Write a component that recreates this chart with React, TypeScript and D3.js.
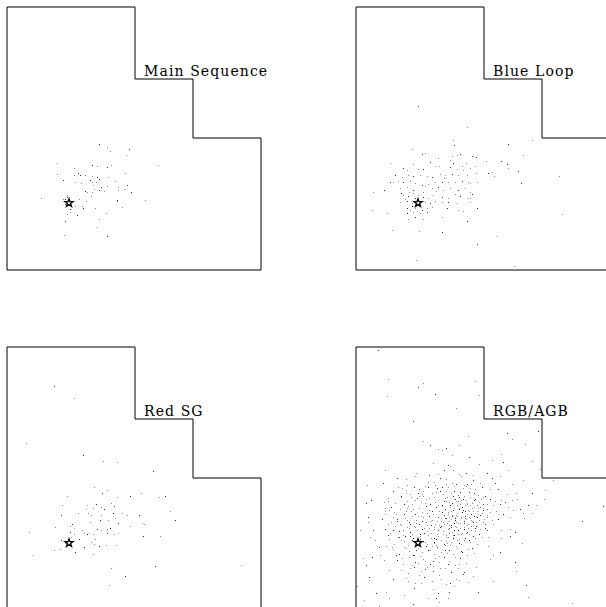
import React from "react";
import * as d3 from "d3";

const panelLabels = ["Main Sequence", "Blue Loop", "Red SG", "RGB/AGB"];

// Star (reference object) position, in the shared panel frame
const centerStar: [number, number] = [69, 203];

// Field boundary vertices (shared panel frame)
const boundary: [number, number][] = [
  [7, 7], [135, 7], [135, 79], [193, 79], [193, 138], [261, 138], [261, 270], [7, 270],
];

const mainSequence: [number, number][] = [
  [99,144],[107,147],[110,151],[129,149],[126,155],[57,163],[92,165],[97,166],[111,165],[107,167],
  [158,165],[74,168],[78,173],[57,174],[74,175],[80,175],[85,175],[92,176],[97,177],[125,173],
  [108,177],[63,180],[75,182],[81,183],[90,180],[92,182],[96,182],[99,179],[115,181],[93,185],
  [101,187],[107,186],[118,187],[127,185],[124,189],[94,189],[99,190],[104,191],[118,190],[85,191],
  [87,192],[92,192],[131,192],[91,196],[67,195],[67,197],[41,198],[63,199],[65,199],[79,199],
  [86,201],[117,200],[117,201],[145,200],[65,204],[75,206],[82,206],[83,208],[95,208],[122,207],
  [70,209],[67,214],[70,212],[77,215],[106,213],[99,219],[65,221],[97,227],[64,235],[107,236],
];

const blueLoop: [number, number][] = [
  [69.3,105.7],[117.7,126.7],[103.7,140],[105.3,145],[62.7,149],[76,153.3],[73.3,154],[102.7,156],[107.7,155],[111,154.3],
  [89,157.7],[101,160],[81,161.7],[41,163.3],[64.3,164.3],[104.3,163.3],[112.7,165.7],[117,163.3],[54.3,168.3],[57.7,170],
  [69.3,169],[74.3,169],[86,166],[90,166],[101,166.7],[107.7,169],[114.3,170],[46,175],[52.7,176.7],[59.3,175],
  [64.3,175.7],[71,175],[77.7,175.7],[82.7,176.7],[91,174.3],[96,175],[102.7,174.3],[109.3,175],[117.7,175],[41,181.7],
  [44.3,182.3],[49.3,181],[54.3,182.3],[61,181],[66,183.3],[72.7,185],[79.3,184.3],[86,182.3],[92.7,181.7],[99.3,182.3],
  [106,182.3],[112.7,181],[119.3,182.3],[24.3,192.3],[35,190],[51,188.3],[57.7,186.7],[64.3,190],[76,185.7],[82.7,188.3],
  [89.3,186.7],[94.3,190],[101,188.3],[109.3,190],[116,188.3],[54.3,195],[59.3,195.7],[64.3,193.3],[69.3,195],[74.3,196.7],
  [79.3,198.3],[84.3,195],[92.7,196.7],[99.3,198.3],[106,194.3],[111,195.7],[119.3,197.7],[51,202.3],[57.7,201],[62.7,203.3],
  [76,201.7],[81,203.3],[86,201],[92.7,202.3],[99.3,201.7],[107.7,203.3],[22.7,210],[57.7,207.7],[61,210],[66,208.3],
  [72.7,210],[77.7,208.3],[82.7,206.7],[97.7,208.3],[109.3,210],[114.3,211],[57.7,213.3],[64.3,212.3],[71,213.3],[77.7,212.3],
  [37.7,213.3],[59.3,219],[66,216.7],[74.3,219],[92.7,216.7],[117.7,221],[43.3,229.7],[70.3,231],[92.7,232.3],[67,259.7],
  [183,140.3],[159.3,144.3],[122.7,156],[124.3,156],[127,157],[174.3,155.3],[136.7,161],[152,161],[126.3,166],[121.3,167.7],
  [157.7,164.3],[158.7,167.7],[127,172.7],[139.3,173.3],[142.7,172],[145,176.3],[168.7,171.3],[210.3,176],[128,181.7],[172,183.3],
  [121.3,183.3],[121.3,191.7],[123,193.7],[121.3,198.3],[121.3,202.3],[128,208],[212.7,214.3],[148,236.3],[128,243.7],[165.3,266.3],
  [60,192],[66,198],[71,205],[56,199],[63,206],[68,211],[74,192],[52,193],[87,191],[95,178],
];

const redSG: [number, number][] = [
  [54.3,46],[74.3,57.7],[25.7,102.7],[83.3,115.3],[103.3,120.7],[117,122.3],[152.7,131],[94,147.3],[107.3,149.7],[101.7,153.3],
  [67.3,155.7],[117.3,156.7],[129.7,156],[141,153.3],[159,156.7],[164.7,156],[62.3,165],[86.7,165],[96,164],[101,166.7],
  [110.7,163.3],[114,166],[86.3,169.3],[92.7,168.3],[104.3,169],[78.3,172.7],[87.7,172.7],[60.7,174.7],[90.7,175],[101,175],
  [113,172.7],[121.7,172.7],[127,174.7],[138.7,174.7],[170,171],[90.3,181.7],[100,180],[107.7,180.3],[115,178.3],[118.3,182.7],
  [142,182.7],[143.7,184.3],[174.7,180.3],[55.3,186.7],[70,185.7],[72.3,184],[74.3,187.7],[82.3,190],[97.3,189.3],[101.3,190],
  [107,189],[110,188.3],[129.7,186],[29,192.3],[70,192.3],[74.3,194],[84,193.3],[86.7,194],[89,192.7],[93,194],
  [107,193.3],[114,194],[118,192.7],[142.7,195.7],[159.7,195.7],[71,196.7],[79,198.7],[95,199.3],[91,202.3],[60.7,200],
  [65,203.3],[94.3,204],[99.3,205.7],[106,204.7],[116.3,204.7],[84,207.3],[54.3,209.7],[60.3,209],[75.3,212],[93,214],
  [33.3,215],[155.3,226],[240.7,224.7],[111.3,228.3],[125,235.7],[109.3,245.3],
];

const rgbAgbOutskirts: [number, number][] = [
  [28.7,10.3],[39,39.3],[74.3,42.7],[69,46.7],[126.3,41],[37.7,56.3],[85.7,53.7],[130.3,55.3],[107,68.3],[64.3,80.7],
  [118.7,96],[73.7,100.7],[81.3,104.7],[88.7,108.7],[92.7,109.7],[97,107.7],[110.3,104.7],[102.7,114.7],[120.3,117],[83.7,123],
  [130.3,123.7],[98.7,124.7],[101,126.3],[103.7,129.7],[95.3,129.7],[36,130.3],[67,133],[80.3,135.3],[88.7,134.3],[110.3,133.7],
  [117,133],[123.7,134.7],[57,139.3],[34.3,142.7],[18,145.3],[48.7,147],[78.7,147],[85.3,142],[97,143.7],[107,143.7],
  [115.3,145.3],[122,143.7],[22,160.3],[35.3,162],[39.3,161.3],[17,162.7],[40.3,169.7],[36.3,173.7],[18.7,177],[18.7,182],
  [11,189.7],[23.7,190.3],[21.3,197],[26,199.7],[30.3,207],[28,206.3],[37,206.3],[23,217],[31,215.3],[13.7,217.7],
  [17,225.3],[35.3,220.3],[40.3,230.3],[19.7,237],[20.3,240.3],[8.3,246.3],[43.7,239.3],[58.7,241.3],[37,252],[27,253],
  [39.7,257.7],[55.3,255.3],[65.3,247.7],[72,243],[78.7,257.7],[87,258],[90.3,262],[98.7,257.7],[63.7,264.3],[29.7,265.7],
  [15.3,259.7],[100.3,252],[105.3,246.3],[97,244.3],[88.7,253],[83.7,248.7],[107,238.7],[113.7,233.7],[123.7,236.3],[118.7,242],
  [128.7,252],[110.3,223.7],[127,227],
  [157.7,92.7],[163.3,99.3],[176.3,104.3],[189.3,91],[152.3,114.3],[143,120.3],[154.3,122],[182.7,121],[191,128.7],[138.3,133],
  [159.3,129.7],[151,136.3],[142.7,137.7],[173.7,140.3],[203.7,139.7],[146,143],[162.7,143.7],[141,148.7],[149.3,148.7],[157.7,153.7],
  [167,152.7],[182.7,153],[196,149.7],[134.3,157],[141,158.7],[146,161],[151.7,159.7],[156,162],[162.7,159.7],[167.7,158.7],
  [179.3,165.3],[187,165.3],[195.3,158.7],[253.7,166.3],[137.7,163.7],[144.3,165.3],[151,163.7],[159.3,167],[164.3,170.3],[171,168.7],
  [174.3,173],[182.7,172.7],[134.3,170.3],[141,172],[147,171],[153.7,173.7],[137.7,177],[142.7,179.7],[149.3,178.7],[161,177],
  [175,177.7],[232.7,181],[134.3,182],[144.3,183.7],[138.3,189.7],[151.7,189.7],[161,188.7],[166,192.3],[139.3,197],[151.7,198],
  [161,196.3],[172.7,202.7],[139.3,206],[151,212],[144.3,215.3],[141,218.7],[166,222],[166.7,231],[143.7,241.3],[177,245.3],
  [179.3,257],[222.7,263],
];

const rgbAgbCore: [number, number][] = [
  [48,138.4],[66,136.2],[79,141.7],[91,137.5],[103,143.1],[112,135.8],[124,139.9],[58,144.6],[86,145.3],[118,144.2],[97,139.1],[131,142.6],
  [44,151.2],[53,147.8],[61,153.6],[70,149.3],[76,146.1],[83,152.9],[88,148.4],[94,154.2],[99,146.9],[105,150.7],[109,155.1],
  [114,147.6],[120,152.3],[126,149.0],[129,154.8],[133,146.5],[57,150.0],[73,154.4],[91,151.1],[117,145.9],[102,153.3],[65,146.7],
  [39,158.3],[46,162.7],[52,156.4],[58,160.9],[63,164.2],[68,157.6],[72,161.8],[77,159.1],[81,163.7],[85,156.8],[89,160.4],
  [93,164.9],[96,158.2],[100,162.1],[104,156.3],[107,160.8],[111,164.3],[114,158.9],[118,162.6],[121,156.7],[125,160.1],
  [128,164.6],[132,158.5],[55,163.9],[74,155.9],[98,157.4],[110,157.2],[123,163.4],
  [36,171.4],[42,167.2],[47,173.6],[51,168.8],[55,174.3],[59,166.1],[62,170.7],[66,173.9],[70,167.5],[73,171.8],[77,165.6],
  [80,169.9],[84,174.2],[87,167.3],[90,171.1],[93,165.8],[96,169.4],[99,173.5],[101,166.9],[104,170.2],[107,174.7],[110,167.8],
  [113,172.1],[116,165.4],[119,169.6],[122,173.8],[125,167.1],[128,171.3],[131,174.9],[134,168.2],[64,168.6],[95,174.6],[108,165.2],[118,174.1],
  [33,179.2],[39,183.8],[44,176.5],[48,181.2],[52,184.6],[56,177.9],[60,182.3],[63,175.6],[67,180.4],[70,184.1],[74,177.3],
  [77,181.9],[80,175.8],[83,179.6],[86,183.7],[89,176.9],[92,180.8],[95,184.4],[97,177.6],[100,181.3],[103,175.2],[106,179.9],
  [109,183.2],[112,176.6],[115,180.5],[118,184.8],[121,178.1],[124,182.4],[127,175.9],[130,180.2],[136,184.1],[72,176.2],
  [88,181.5],[102,184.9],[116,177.8],[58,179.5],
  [36,188.6],[41,193.1],[46,186.4],[50,190.9],[54,194.5],[58,187.2],[61,191.7],[65,185.9],[68,189.8],[71,194.2],[75,187.7],
  [78,191.4],[82,185.3],[85,189.1],[88,193.6],[91,186.8],[94,190.5],[97,194.8],[100,188.2],[103,192.3],[106,185.7],[109,189.9],
  [112,194.1],[115,187.4],[118,191.6],[122,186.1],[126,190.8],[130,194.3],[63,193.8],[80,188.4],[92,185.6],[104,194.6],[120,193.9],[44,190.2],
  [40,199.4],[45,203.8],[50,196.6],[55,201.2],[59,204.7],[64,197.9],[67,201.9],[71,196.3],[74,200.6],[78,204.3],[82,198.1],
  [85,202.4],[89,195.7],[92,199.8],[95,203.9],[99,197.2],[102,201.5],[105,195.4],[108,199.9],[112,204.2],[116,197.7],[121,202.1],
  [126,198.4],[61,195.6],[87,204.8],[97,200.9],[110,202.9],[52,200.3],
  [44,209.4],[50,213.7],[55,206.8],[60,211.2],[65,214.9],[69,207.6],[73,212.3],[77,205.9],[81,210.1],[85,214.4],[88,207.3],
  [92,211.6],[96,205.5],[100,209.8],[104,214.1],[108,207.9],[113,212.4],[119,208.6],[125,213.3],[67,210.4],[83,206.4],[98,213.2],
  [48,219.6],[54,223.9],[60,217.2],[66,221.5],[71,216.1],[76,220.8],[81,224.3],[86,217.9],[90,222.2],[95,216.6],[100,220.9],
  [106,224.7],[111,218.3],[117,222.6],[63,225.0],[84,221.4],
  [52,229.7],[59,233.4],[65,227.1],[72,231.2],[78,226.5],[84,230.9],[90,234.6],[96,228.3],[102,232.4],[109,227.8],[70,234.9],[115,231.6],
  [57,238.2],[66,242.6],[75,237.1],[83,241.4],[92,238.9],[101,243.3],[110,239.7],
  [97,161.5],[101,164.8],[105,168.2],[109,161.1],[113,166.7],[117,160.3],[121,164.9],[126,158.8],[130,162.4],[99,171.7],
  [103,175.9],[108,172.6],[112,178.4],[116,171.2],[120,176.8],[124,170.5],[128,177.3],[133,172.8],[98,182.6],[102,186.9],
  [107,181.7],[111,188.3],[115,183.1],[119,187.6],[123,181.2],[127,185.5],[131,189.2],[100,192.7],[105,190.1],[113,192.8],
  [96,178.3],[110,169.4],[122,179.6],[118,163.6],[106,158.6],[129,168.1],[135,178.9],[134,164.3],
];

const rgbAgbCoreExtra: [number, number][] = [
  [51.5,157.2],[56.8,171.1],[61.2,183.9],[65.7,160.4],[69.1,176.3],[72.6,188.7],[75.9,163.2],[79.4,195.1],[82.8,170.6],[86.2,161.9],
  [89.7,185.2],[93.1,172.4],[96.5,196.8],[99.8,176.9],[103.2,163.1],[106.6,187.4],[110.1,199.3],[113.5,169.8],[116.9,192.5],[120.3,171.5],
  [123.7,195.6],[127.1,181.7],[130.6,166.6],[48.3,178.6],[53.7,189.5],[58.1,167.9],[62.6,199.8],[67.0,182.5],[70.4,155.7],[74.8,193.2],
  [78.2,172.9],[81.6,181.3],[85.1,197.9],[88.5,165.2],[91.9,178.4],[95.3,160.8],[98.7,188.9],[102.1,171.3],[105.5,178.1],[108.9,193.7],
  [112.3,160.2],[115.7,175.9],[119.1,184.3],[122.5,167.8],[125.9,188.2],[129.4,173.6],[57.4,208.1],[63.9,214.8],[68.3,204.2],[73.7,218.6],
  [79.2,209.8],[84.6,202.9],[90.1,216.4],[95.5,210.3],[100.9,205.4],[106.3,216.9],[111.8,210.9],[61.4,227.5],[68.8,222.8],[76.3,229.3],
  [83.7,226.1],[91.2,227.9],[98.6,224.1],[45.2,172.4],[41.6,181.6],[38.7,195.5],[43.3,206.6],[35.8,167.5],[47.1,215.2],[53.2,218.3],
  [87.4,152.1],[92.6,146.8],[97.3,150.5],[104.9,146.2],[110.7,151.9],[115.2,155.6],[120.8,148.3],[125.3,152.6],[80.1,157.8],[74.2,150.8],
  [68.5,152.9],[62.1,157.5],[57.3,153.3],[135.7,156.4],[138.2,168.7],[137.5,175.3],[136.1,188.4],[133.2,197.3],[128.4,203.7],[123.1,207.9],
  [117.6,214.7],[100.4,185.1],[104.8,183.2],[108.2,176.3],[111.4,182.6],[114.8,188.9],[117.3,179.4],[121.7,189.9],[125.2,176.4],[101.6,178.7],
  [94.1,182.2],[89.3,189.6],[84.7,186.9],[77.6,185.1],[73.2,180.7],[66.4,186.8],[60.1,188.3],[56.2,195.8],[51.4,184.2],[47.6,196.9],
  [70.7,199.4],[76.4,202.2],[81.9,193.4],[87.1,199.2],[93.6,194.2],[98.1,203.2],[103.6,197.6],[107.4,205.9],[114.5,200.4],[119.8,199.6],
];

const rgbAgb = [...rgbAgbOutskirts, ...rgbAgbCore, ...rgbAgbCoreExtra];

const panelData = [mainSequence, blueLoop, redSG, rgbAgb];
const panelOffsets: [number, number][] = [[0, 0], [349, 0], [0, 340], [349, 340]];

const W = 606;
const H = 607;

export default function App() {
  const x = d3.scaleLinear().domain([7, 261]).range([7, 261]);
  const y = d3.scaleLinear().domain([7, 270]).range([7, 270]);
  const line = d3.line<[number, number]>().x((d) => x(d[0])).y((d) => y(d[1]));
  const starPath = d3.symbol().type(d3.symbolStar).size(20)() as string;

  return (
    <svg
      width={W}
      height={H}
      style={{ position: "absolute", left: 0, top: 0, background: "#fff" }}
    >
      <rect x={0} y={0} width={W} height={H} fill="#fff" />
      {panelData.map((pts, pi) => {
        const [ox, oy] = panelOffsets[pi];
        return (
          <g key={pi} transform={`translate(${ox},${oy})`}>
            {pts.map((d, i) => (
              <rect
                key={i}
                x={Math.round(x(d[0]))}
                y={Math.round(y(d[1]))}
                width={1}
                height={1}
                fill={i % 3 === 0 ? "#2a2a2a" : "#8c8c8c"}
              />
            ))}
            <path
              d={(line(boundary) as string) + "Z"}
              fill="none"
              stroke="#000"
              strokeWidth={1}
            />
            <text
              x={x(144)}
              y={y(75.5)}
              fontFamily="'DejaVu Serif', serif"
              fontSize={14}
              letterSpacing={1.1}
              fill="#000"
            >
              {panelLabels[pi]}
            </text>
            <path
              d={starPath}
              transform={`translate(${x(centerStar[0])},${y(centerStar[1])})`}
              fill="#fff"
              stroke="#000"
              strokeWidth={1.3}
            />
          </g>
        );
      })}
    </svg>
  );
}
